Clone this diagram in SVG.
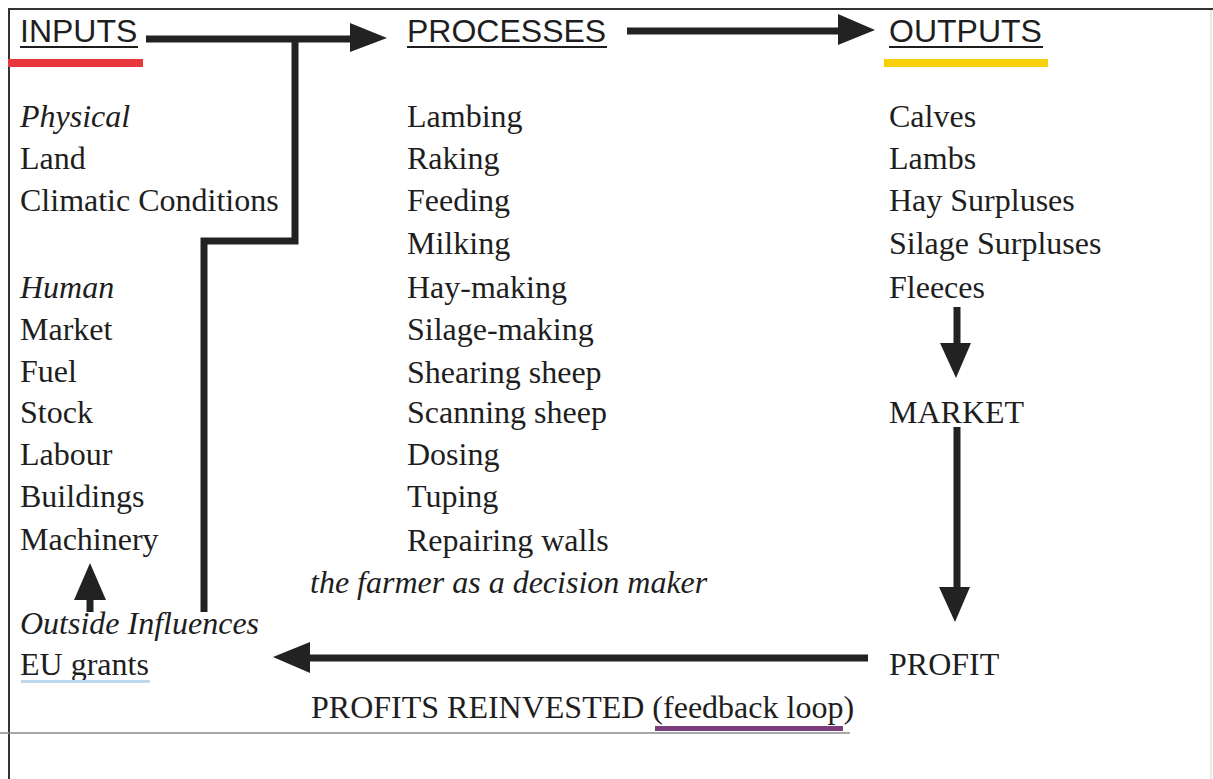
<svg xmlns="http://www.w3.org/2000/svg" width="1213" height="779" viewBox="0 0 1213 779">
<style>
.h{font-family:"Liberation Sans",Arial,sans-serif;font-size:32px;fill:#1e1e1e;}
.t{font-family:"Liberation Serif","Times New Roman",serif;font-size:32px;fill:#1e1e1e;}
.i{font-style:italic;}
.ul{stroke:#1e1e1e;stroke-width:2;}
.c{stroke:#222;stroke-width:7;fill:none;}
.ah{fill:#222;}
</style>
<rect x="0" y="0" width="1213" height="779" fill="#fff"/>
<g id="frame">
<line x1="8" y1="9" x2="1213" y2="9" stroke="#333" stroke-width="2"/>
<line x1="9" y1="8" x2="9" y2="779" stroke="#333" stroke-width="2"/>
<line x1="1211" y1="10" x2="1211" y2="779" stroke="#e2e2e2" stroke-width="1.5"/>
<line x1="0" y1="733" x2="850" y2="733" stroke="#8a8a8a" stroke-width="1.5"/>
</g>
<g id="inputs">
<text class="h" x="20" y="42">INPUTS</text>
<line class="ul" x1="20" y1="47" x2="138" y2="47"/>
<rect x="8" y="59" width="135" height="8" fill="#e8383d"/>
<text class="t i" x="20" y="127">Physical</text>
<text class="t" x="20" y="169">Land</text>
<text class="t" x="20" y="211">Climatic Conditions</text>
<text class="t i" x="20" y="298">Human</text>
<text class="t" x="20" y="340">Market</text>
<text class="t" x="20" y="382">Fuel</text>
<text class="t" x="20" y="423">Stock</text>
<text class="t" x="20" y="465">Labour</text>
<text class="t" x="20" y="507">Buildings</text>
<text class="t" x="20" y="550">Machinery</text>
</g>
<g id="outside">
<text class="t i" x="20" y="634">Outside Influences</text>
<text class="t" x="20" y="675">EU grants</text>
<rect x="21" y="680" width="129" height="3" fill="#bcd9ef"/>
</g>
<g id="processes">
<text class="h" x="407" y="42">PROCESSES</text>
<line class="ul" x1="407" y1="47" x2="607" y2="47"/>
<text class="t" x="407" y="127">Lambing</text>
<text class="t" x="407" y="169">Raking</text>
<text class="t" x="407" y="211">Feeding</text>
<text class="t" x="407" y="254">Milking</text>
<text class="t" x="407" y="298">Hay-making</text>
<text class="t" x="407" y="340">Silage-making</text>
<text class="t" x="407" y="383">Shearing sheep</text>
<text class="t" x="407" y="423">Scanning sheep</text>
<text class="t" x="407" y="465">Dosing</text>
<text class="t" x="407" y="507">Tuping</text>
<text class="t" x="407" y="551">Repairing walls</text>
<text class="t i" x="310" y="593">the farmer as a decision maker</text>
</g>
<g id="outputs">
<text class="h" x="889" y="42">OUTPUTS</text>
<line class="ul" x1="889" y1="47" x2="1043" y2="47"/>
<rect x="884" y="59" width="164" height="8" fill="#f7cf0a"/>
<text class="t" x="889" y="127">Calves</text>
<text class="t" x="889" y="169">Lambs</text>
<text class="t" x="889" y="211">Hay Surpluses</text>
<text class="t" x="889" y="254">Silage Surpluses</text>
<text class="t" x="889" y="298">Fleeces</text>
</g>
<g id="market">
<text class="t" x="889" y="423">MARKET</text>
</g>
<g id="profit">
<text class="t" x="889" y="675">PROFIT</text>
</g>
<g id="feedback">
<text class="t" x="311" y="718">PROFITS REINVESTED (feedback loop)</text>
<rect x="655" y="726" width="188" height="5" fill="#7a3e7c"/>
</g>
<g id="connectors">
<line class="c" x1="146" y1="39" x2="352" y2="39"/>
<polygon class="ah" points="350,23 387,38 350,52"/>
<polyline class="c" points="295,39 295,241 204,241 204,612"/>
<line class="c" x1="627" y1="31" x2="840" y2="31"/>
<polygon class="ah" points="838,14 875,30 838,45"/>
<line class="c" x1="957" y1="307" x2="957" y2="345"/>
<polygon class="ah" points="940,343 971,343 956,378"/>
<line class="c" x1="957" y1="427" x2="957" y2="589"/>
<polygon class="ah" points="939,587 970,587 955,622"/>
<line class="c" x1="868" y1="658" x2="308" y2="658"/>
<polygon class="ah" points="310,642 273,657 310,673"/>
<line class="c" x1="90" y1="612" x2="90" y2="598" stroke-width="8"/>
<polygon class="ah" points="74,600 106,600 90,563"/>
</g>
</svg>
